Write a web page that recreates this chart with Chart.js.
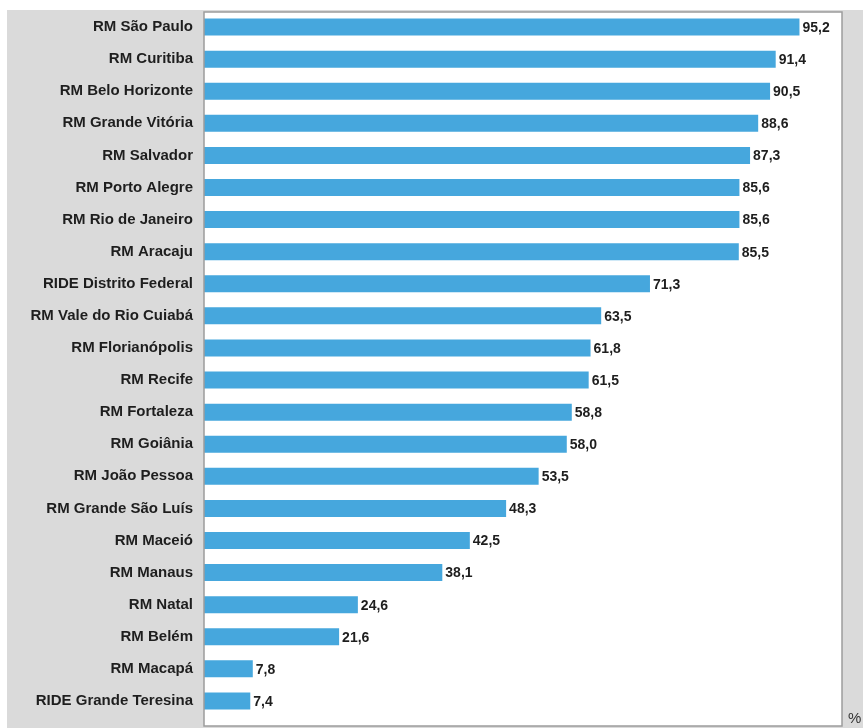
<!DOCTYPE html>
<html>
<head>
<meta charset="utf-8">
<script src="https://cdn.jsdelivr.net/npm/chart.js@4/dist/chart.umd.min.js"></script>
<style>
html,body{margin:0;padding:0;background:#ffffff;}
#wrap{position:relative;width:863px;height:728px;}
canvas{display:block;}
</style>
</head>
<body>
<div id="wrap"><canvas id="c" width="863" height="728"></canvas></div>
<script>
const categories = [
  "RM São Paulo","RM Curitiba","RM Belo Horizonte","RM Grande Vitória","RM Salvador",
  "RM Porto Alegre","RM Rio de Janeiro","RM Aracaju","RIDE Distrito Federal","RM Vale do Rio Cuiabá",
  "RM Florianópolis","RM Recife","RM Fortaleza","RM Goiânia","RM João Pessoa",
  "RM Grande São Luís","RM Maceió","RM Manaus","RM Natal","RM Belém",
  "RM Macapá","RIDE Grande Teresina"
];
const values = [
  95.2, 91.4, 90.5, 88.6, 87.3,
  85.6, 85.6, 85.5, 71.3, 63.5,
  61.8, 61.5, 58.8, 58.0, 53.5,
  48.3, 42.5, 38.1, 24.6, 21.6,
  7.8, 7.4
];
const axisMax = 102;
const unitLabel = "%";

const FONT = "'Liberation Sans', Arial, sans-serif";
const FRAME_EXTRA_BOTTOM = 9;

const panelPlugin = {
  id: 'panel',
  beforeDraw(chart) {
    const ctx = chart.ctx;
    const a = chart.chartArea;
    ctx.save();
    ctx.fillStyle = '#ffffff';
    ctx.fillRect(0, 0, chart.width, chart.height);
    ctx.fillStyle = '#dadada';
    ctx.fillRect(7, 10, chart.width - 7, chart.height - 10);
    ctx.fillStyle = '#ffffff';
    ctx.fillRect(a.left, a.top + 1, a.right - a.left, a.bottom - a.top - 1 + FRAME_EXTRA_BOTTOM);
    ctx.restore();
  },
  afterDraw(chart) {
    const ctx = chart.ctx;
    const a = chart.chartArea;
    ctx.save();
    ctx.strokeStyle = '#9c9c9c';
    ctx.lineWidth = 1.5;
    ctx.strokeRect(a.left, a.top + 1, a.right - a.left, a.bottom - a.top - 1 + FRAME_EXTRA_BOTTOM);
    ctx.fillStyle = '#333333';
    ctx.font = "15px " + FONT;
    ctx.textAlign = 'left';
    ctx.textBaseline = 'alphabetic';
    ctx.fillText(unitLabel, a.right + 6, a.bottom + FRAME_EXTRA_BOTTOM - 3);
    ctx.restore();
  }
};

const valueLabels = {
  id: 'valueLabels',
  afterDatasetsDraw(chart) {
    const ctx = chart.ctx;
    const meta = chart.getDatasetMeta(0);
    ctx.save();
    ctx.fillStyle = '#1e1e1e';
    ctx.font = "bold 14px " + FONT;
    ctx.textAlign = 'left';
    ctx.textBaseline = 'middle';
    meta.data.forEach((bar, i) => {
      const v = chart.data.datasets[0].data[i];
      ctx.fillText(v.toFixed(1).replace('.', ','), bar.x + 3, bar.y + 1);
    });
    ctx.restore();
  }
};

new Chart(document.getElementById('c'), {
  type: 'bar',
  data: {
    labels: categories,
    datasets: [{
      data: values,
      backgroundColor: '#46a7dd',
      borderWidth: 0,
      barPercentage: 0.53,
      categoryPercentage: 1.0
    }]
  },
  options: {
    indexAxis: 'y',
    responsive: false,
    animation: false,
    devicePixelRatio: 1,
    layout: { padding: { top: 11, right: 21, bottom: 11, left: 0 } },
    plugins: {
      legend: { display: false },
      tooltip: { enabled: false },
      title: { display: false }
    },
    scales: {
      x: {
        display: false,
        min: 0,
        max: axisMax
      },
      y: {
        display: true,
        border: { display: false },
        grid: { display: false, drawTicks: false },
        ticks: {
          color: '#1e1e1e',
          font: { family: FONT, size: 15, weight: 'bold' },
          padding: 11,
          autoSkip: false
        },
        afterFit(scale) {
          scale.width = 204;
          scale.paddingTop = 0;
          scale.paddingBottom = 0;
        }
      }
    }
  },
  plugins: [panelPlugin, valueLabels]
});
</script>
</body>
</html>
